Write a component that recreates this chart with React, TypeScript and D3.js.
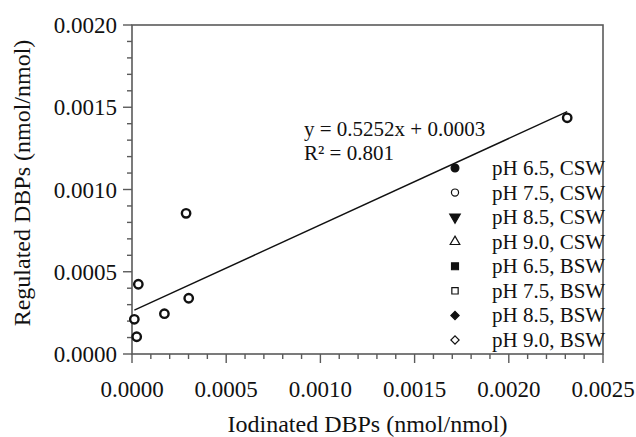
import React, { useEffect, useRef } from "react";
import * as d3 from "d3";

// data
const iodinated = [0.0000124, 0.000025, 0.0000336, 0.000172, 0.000287, 0.000301, 0.00231];
const regulated = [0.000211, 0.000105, 0.000424, 0.000245, 0.000855, 0.000339, 0.001436];
const xTicks = [0, 0.0005, 0.001, 0.0015, 0.002, 0.0025];
const yTicks = [0, 0.0005, 0.001, 0.0015, 0.002];
const legendLabels = [
  "pH 6.5, CSW",
  "pH 7.5, CSW",
  "pH 8.5, CSW",
  "pH 9.0, CSW",
  "pH 6.5, BSW",
  "pH 7.5, BSW",
  "pH 8.5, BSW",
  "pH 9.0, BSW",
];
const slope = 0.5252;
const intercept = 0.00026;
const equation = "y = 0.5252x + 0.0003";
const rSquared = "R² = 0.801";

const W = 636;
const H = 437;
const margin = { left: 132, right: 33, top: 25, bottom: 83 };
const font = "'Liberation Serif', 'Times New Roman', serif";

const App = () => {
  const ref = useRef<SVGSVGElement | null>(null);

  useEffect(() => {
    const svg = d3.select(ref.current);
    svg.selectAll("*").remove();

    const x = d3.scaleLinear().domain([0, 0.0025]).range([margin.left, W - margin.right]);
    const y = d3.scaleLinear().domain([0, 0.002]).range([H - margin.bottom, margin.top]);
    const axisColor = "#5a5a5a";
    const x0 = x(0);
    const y0 = y(0);

    // frame
    svg
      .append("rect")
      .attr("x", x0)
      .attr("y", y(0.002))
      .attr("width", x(0.0025) - x0)
      .attr("height", y0 - y(0.002))
      .attr("fill", "none")
      .attr("stroke", axisColor)
      .attr("stroke-width", 1.6);

    // minor + major ticks
    const xMinor = d3.range(0, 26).map(i => i * 0.0001);
    const yMinor = d3.range(0, 21).map(i => i * 0.0001);

    svg
      .append("g")
      .selectAll("line")
      .data(xMinor)
      .enter()
      .append("line")
      .attr("x1", d => x(d))
      .attr("x2", d => x(d))
      .attr("y1", y0)
      .attr("y2", (d, i) => (i % 5 === 0 ? y0 + 9 : y0 + 5))
      .attr("stroke", axisColor)
      .attr("stroke-width", 1.4);

    svg
      .append("g")
      .selectAll("line")
      .data(yMinor)
      .enter()
      .append("line")
      .attr("x1", x0)
      .attr("x2", (d, i) => (i % 5 === 0 ? x0 - 9 : x0 - 5))
      .attr("y1", d => y(d))
      .attr("y2", d => y(d))
      .attr("stroke", axisColor)
      .attr("stroke-width", 1.4);

    // tick labels
    svg
      .append("g")
      .selectAll("text")
      .data(xTicks)
      .enter()
      .append("text")
      .attr("x", d => x(d))
      .attr("y", y0 + 43)
      .attr("text-anchor", "middle")
      .style("font-family", font)
      .style("font-size", "23px")
      .attr("fill", "#111")
      .text(d => d3.format(".4f")(d));

    svg
      .append("g")
      .selectAll("text")
      .data(yTicks)
      .enter()
      .append("text")
      .attr("x", x0 - 15)
      .attr("y", d => y(d) + 8)
      .attr("text-anchor", "end")
      .style("font-family", font)
      .style("font-size", "23px")
      .attr("fill", "#111")
      .text(d => d3.format(".4f")(d));

    // axis titles
    svg
      .append("text")
      .attr("x", (x0 + x(0.0025)) / 2)
      .attr("y", 432)
      .attr("text-anchor", "middle")
      .style("font-family", font)
      .style("font-size", "24px")
      .attr("fill", "#111")
      .text("Iodinated DBPs (nmol/nmol)");

    svg
      .append("text")
      .attr("transform", "translate(30," + 183 + ") rotate(-90)")
      .attr("text-anchor", "middle")
      .style("font-family", font)
      .style("font-size", "24px")
      .attr("fill", "#111")
      .text("Regulated DBPs (nmol/nmol)");

    // trend line
    const [xmin, xmax] = d3.extent(iodinated) as [number, number];
    svg
      .append("line")
      .attr("x1", x(xmin))
      .attr("y1", y(slope * xmin + intercept))
      .attr("x2", x(xmax))
      .attr("y2", y(slope * xmax + intercept))
      .attr("stroke", "#111")
      .attr("stroke-width", 1.4);

    // points
    svg
      .append("g")
      .selectAll("circle")
      .data(iodinated)
      .enter()
      .append("circle")
      .attr("cx", d => x(d))
      .attr("cy", (d, i) => y(regulated[i]))
      .attr("r", 4.2)
      .attr("fill", "#fff")
      .attr("stroke", "#111")
      .attr("stroke-width", 2.4);

    // equation
    svg
      .append("text")
      .attr("x", 304)
      .attr("y", 136)
      .style("font-family", font)
      .style("font-size", "21px")
      .attr("fill", "#111")
      .text(equation);
    svg
      .append("text")
      .attr("x", 304)
      .attr("y", 160)
      .style("font-family", font)
      .style("font-size", "21px")
      .attr("fill", "#111")
      .text(rSquared);

    // legend
    const shapes = [
      d3.symbolCircle,
      d3.symbolCircle,
      d3.symbolTriangle,
      d3.symbolTriangle,
      d3.symbolSquare,
      d3.symbolSquare,
      d3.symbolSquare,
      d3.symbolSquare,
    ];
    const rowY = d3.scaleLinear().domain([0, 7]).range([168, 340]);
    const legend = svg
      .append("g")
      .selectAll("g")
      .data(legendLabels)
      .enter()
      .append("g")
      .attr("transform", (d, i) => "translate(0," + rowY(i) + ")");

    legend
      .append("path")
      .attr("d", (d, i) => d3.symbol(shapes[i], i >= 6 ? 34 : i % 2 === 0 ? 48 : 40)())
      .attr(
        "transform",
        (d, i) => "translate(455,0)" + (i === 2 ? " rotate(180)" : i >= 6 ? " rotate(45)" : "")
      )
      .attr("fill", (d, i) => (i % 2 === 0 ? "#111" : "#fff"))
      .attr("stroke", "#111")
      .attr("stroke-width", 1.2);

    legend
      .append("text")
      .attr("x", 492)
      .attr("y", 7)
      .style("font-family", font)
      .style("font-size", "21px")
      .attr("fill", "#111")
      .text(d => d);
  }, []);

  return (
    <svg
      ref={ref}
      width={W}
      height={H}
      style={{ position: "absolute", left: 0, top: 0, background: "#fff" }}
    />
  );
};

export default App;
